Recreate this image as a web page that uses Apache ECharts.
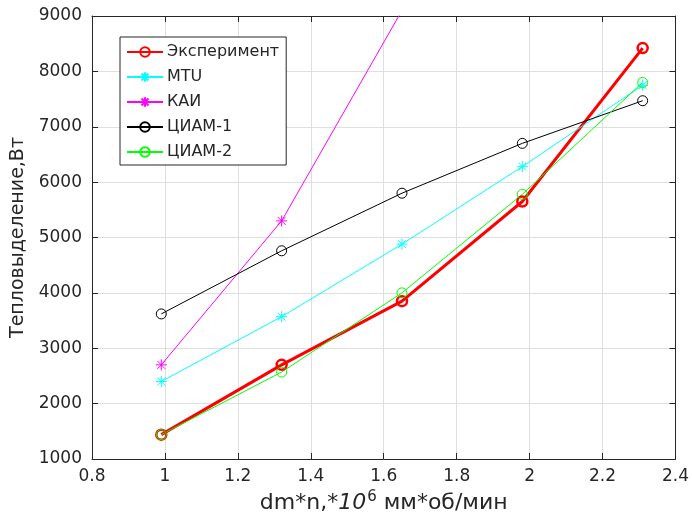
<!DOCTYPE html>
<html>
<head>
<meta charset="utf-8">
<script src="https://cdn.jsdelivr.net/npm/echarts@6/dist/echarts.min.js"></script>
<style>html,body{margin:0;padding:0;background:#fff}#c{width:692px;height:530px}</style>
</head>
<body>
<div id="c"></div>
<script>
var xValues = [0.99, 1.32, 1.65, 1.98, 2.31];
var experiment = [1440, 2700, 3850, 5650, 8420];
var mtu = [2400, 3570, 4880, 6280, 7750];
var kai = [2700, 5300, 9100];
var tsiam1 = [3620, 4760, 5800, 6700, 7470];
var tsiam2 = [1440, 2570, 4000, 5780, 7800];
var seriesNames = ['Эксперимент', 'MTU', 'КАИ', 'ЦИАМ-1', 'ЦИАМ-2'];
var xTicks = [0.8, 1, 1.2, 1.4, 1.6, 1.8, 2, 2.2, 2.4];
var yTicks = [1000, 2000, 3000, 4000, 5000, 6000, 7000, 8000, 9000];

function pairs(vals){ return vals.map(function(v,i){ return [xValues[i], v]; }); }

var star = 'path://M0,-5L0,5M-5,0L5,0M-3.6,-3.6L3.6,3.6M-3.6,3.6L3.6,-3.6';
var font = '"DejaVu Sans", "Liberation Sans", sans-serif';
var txt = '#262626';

function mk(name, data, color, lw, symbol, size, sw){
  return {
    name: name, type: 'line', data: pairs(data), clip: true,
    symbol: symbol, symbolSize: size, showAllSymbol: true,
    lineStyle: { color: color, width: lw },
    itemStyle: { color: symbol === star ? color : 'rgba(0,0,0,0)', borderColor: color, borderWidth: sw },
    emphasis: { disabled: true }, animation: false
  };
}

var chart = echarts.init(document.getElementById('c'), null, {renderer: 'canvas'});
var axisCommon = {
  axisLine: { show: true, lineStyle: { color: txt, width: 1 } },
  axisTick: { show: true, inside: true, length: 6, lineStyle: { color: txt } }
};
chart.setOption({
  animation: false,
  backgroundColor: '#ffffff',
  grid: { left: 92, top: 16, right: 15, bottom: 71 },
  legend: {
    orient: 'vertical', left: 120, top: 37,
    backgroundColor: '#ffffff', borderColor: txt, borderWidth: 1,
    padding: [7, 7, 5, 6],
    itemWidth: 36, itemHeight: 12, itemGap: 9,
    textStyle: { fontFamily: font, fontSize: 16, color: txt, padding: [0,0,0,-1] },
    data: seriesNames
  },
  xAxis: [
    Object.assign({
      type: 'value', min: xTicks[0], max: xTicks[xTicks.length-1], interval: 0.2,
      position: 'bottom',
      axisLabel: { fontFamily: font, fontSize: 17, color: txt, margin: 9,
        formatter: function(v){ return String(Math.round(v*10)/10); } },
      splitLine: { show: true, lineStyle: { color: '#dfdfdf', width: 1 } },
      name: '{a|dm*n,*}{i|10}{s|6}{a| мм*об/мин}',
      nameLocation: 'middle', nameGap: 19,
      nameTextStyle: { rich: {
        a: { fontFamily: font, fontSize: 22, color: txt },
        i: { fontFamily: font, fontSize: 22, color: txt, fontStyle: 'italic' },
        s: { fontFamily: font, fontSize: 15, color: txt, verticalAlign: 'top', padding: [0,0,11,1] }
      } }
    }, axisCommon),
    Object.assign({
      type: 'value', min: xTicks[0], max: xTicks[xTicks.length-1], interval: 0.2,
      position: 'top', axisLabel: { show: false }, splitLine: { show: false }
    }, axisCommon)
  ],
  yAxis: [
    Object.assign({
      type: 'value', min: yTicks[0], max: yTicks[yTicks.length-1], interval: 1000,
      position: 'left',
      axisLabel: { fontFamily: font, fontSize: 17, color: txt, margin: 10,
        formatter: function(v){ return String(v); } },
      splitLine: { show: true, lineStyle: { color: '#dfdfdf', width: 1 } },
      name: 'Тепловыделение,Вт', nameLocation: 'middle', nameGap: 62,
      nameTextStyle: { fontFamily: font, fontSize: 19, color: txt }
    }, axisCommon),
    Object.assign({
      type: 'value', min: yTicks[0], max: yTicks[yTicks.length-1], interval: 1000,
      position: 'right', axisLabel: { show: false }, splitLine: { show: false }
    }, axisCommon)
  ],
  series: [
    mk(seriesNames[0], experiment, '#ff0000', 3, 'circle', 10, 2.5),
    mk(seriesNames[1], mtu, '#00ffff', 1, star, 11, 1),
    mk(seriesNames[2], kai, '#ff00ff', 1, star, 11, 1),
    mk(seriesNames[3], tsiam1, '#000000', 1, 'circle', 10, 1),
    mk(seriesNames[4], tsiam2, '#00ff00', 1, 'circle', 10, 1)
  ]
});
</script>
</body>
</html>
